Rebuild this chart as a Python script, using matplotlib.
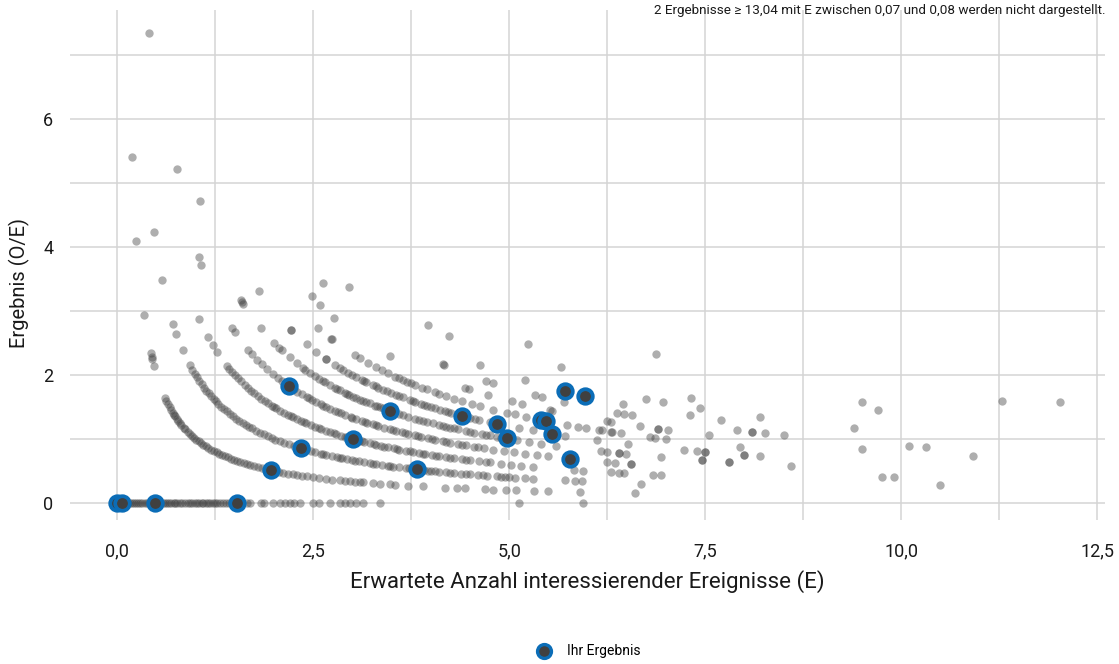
import matplotlib
matplotlib.use("Agg")
import matplotlib.pyplot as plt
from matplotlib.lines import Line2D
import numpy as np

# Erwartete Anzahl E je Anzahl beobachteter Ereignisse O
e_nach_o = {
    0: [0.02, 0.04, 0.07, 0.09, 0.11, 0.14, 0.16, 0.19, 0.21, 0.24, 0.27, 0.29, 0.32, 0.35,
        0.38, 0.41, 0.44, 0.52, 0.55, 0.58, 0.61, 0.64, 0.66, 0.69, 0.72, 0.74, 0.77, 0.8,
        0.83, 0.86, 0.9, 0.93, 0.96, 0.99, 1.02, 1.05, 1.08, 1.1, 1.13, 1.16, 1.19, 1.22,
        1.25, 1.28, 1.31, 1.35, 1.39, 1.43, 1.47, 1.66, 1.7, 1.84, 1.87, 1.99, 2.08, 2.14,
        2.2, 2.26, 2.33, 2.5, 2.57, 2.72, 2.84, 2.9, 2.97, 3.05, 3.13, 3.35, 5.13, 5.94],
    1: [0.185, 0.244, 0.34, 0.427, 0.44, 0.445, 0.467, 0.61, 0.63, 0.65, 0.67, 0.69, 0.71,
        0.73, 0.74, 0.76, 0.78, 0.8, 0.82, 0.85, 0.87, 0.9, 0.93, 0.96, 0.98, 1.01, 1.04,
        1.07, 1.1, 1.13, 1.16, 1.2, 1.23, 1.27, 1.3, 1.34, 1.37, 1.41, 1.45, 1.49, 1.53,
        1.57, 1.62, 1.66, 1.7, 1.75, 1.8, 1.85, 1.9, 2.01, 2.06, 2.12, 2.18, 2.24, 2.3,
        2.36, 2.42, 2.5, 2.57, 2.66, 2.74, 2.84, 2.9, 2.97, 3.03, 3.1, 3.14, 3.26, 3.35,
        3.48, 3.54, 3.71, 3.9, 4.18, 4.33, 4.44, 4.69, 4.8, 4.96, 5.09, 5.32, 5.5, 5.9, 6.6],
    2: [0.473, 0.575, 0.714, 0.757, 0.84, 0.93, 0.96, 0.99, 1.02, 1.05, 1.08, 1.11, 1.14,
        1.17, 1.2, 1.23, 1.26, 1.29, 1.33, 1.36, 1.4, 1.44, 1.48, 1.52, 1.56, 1.6, 1.64,
        1.68, 1.72, 1.77, 1.82, 1.87, 1.92, 1.97, 2.02, 2.08, 2.13, 2.19, 2.25, 2.3, 2.41,
        2.47, 2.53, 2.6, 2.63, 2.67, 2.74, 2.8, 2.84, 2.87, 2.93, 3.0, 3.04, 3.08, 3.15,
        3.22, 3.26, 3.3, 3.38, 3.45, 3.48, 3.52, 3.6, 3.68, 3.72, 3.76, 3.92, 3.96, 4.0,
        4.05, 4.1, 4.2, 4.25, 4.3, 4.38, 4.45, 4.5, 4.6, 4.66, 4.72, 4.85, 4.9, 4.95, 5.0,
        5.08, 5.2, 5.3, 5.71, 5.84, 5.93, 6.68],
    3: [0.409, 1.045, 1.16, 1.22, 1.27, 1.4, 1.43, 1.47, 1.5, 1.54, 1.58, 1.63, 1.67, 1.71,
        1.75, 1.8, 1.84, 1.89, 1.93, 1.98, 2.0, 2.03, 2.08, 2.13, 2.18, 2.22, 2.24, 2.29,
        2.35, 2.38, 2.41, 2.47, 2.53, 2.57, 2.6, 2.66, 2.72, 2.76, 2.79, 2.86, 2.9, 2.93,
        3.08, 3.12, 3.15, 3.22, 3.27, 3.3, 3.37, 3.41, 3.45, 3.53, 3.57, 3.6, 3.68, 3.73,
        3.77, 3.85, 3.9, 3.93, 4.02, 4.07, 4.11, 4.2, 4.25, 4.3, 4.4, 4.45, 4.5, 4.62, 4.7,
        4.75, 4.9, 5.02, 5.15, 5.3, 5.83, 5.94, 6.3, 6.4, 6.47, 6.84, 6.94, 10.5],
    4: [0.766, 1.04, 1.075, 1.465, 1.5, 1.67, 1.72, 1.79, 1.85, 1.91, 1.99, 2.05, 2.1,
        2.15, 2.25, 2.3, 2.36, 2.42, 2.45, 2.48, 2.54, 2.6, 2.63, 2.66, 2.72, 2.78, 2.82,
        2.85, 2.91, 2.98, 3.0, 3.05, 3.12, 3.16, 3.19, 3.26, 3.3, 3.33, 3.4, 3.48, 3.52,
        3.56, 3.63, 3.67, 3.71, 3.8, 3.84, 3.88, 3.97, 4.02, 4.06, 4.15, 4.2, 4.25, 4.35,
        4.4, 4.45, 4.55, 4.6, 4.68, 4.8, 4.93, 5.06, 5.2, 5.35, 5.5, 6.25, 6.35, 6.56, 6.56,
        9.75, 9.91],
    5: [1.06, 1.58, 1.59, 1.61, 1.83, 2.0, 2.07, 2.1, 2.2, 2.29, 2.37, 2.4, 2.46, 2.52,
        2.58, 2.62, 2.65, 2.72, 2.78, 2.81, 2.84, 2.9, 2.93, 2.96, 3.01, 3.05, 3.1, 3.14,
        3.18, 3.22, 3.29, 3.32, 3.35, 3.39, 3.45, 3.52, 3.6, 3.65, 3.71, 3.8, 3.85, 3.9,
        3.95, 4.03, 4.1, 4.16, 4.2, 4.25, 4.3, 4.35, 4.45, 4.5, 4.55, 4.65, 4.7, 4.75, 4.85,
        4.9, 5.1, 5.25, 5.4, 5.6, 6.17, 6.25, 6.4, 6.4, 6.49, 6.94, 7.46, 7.46, 7.8, 7.8,
        8.6],
    6: [1.81, 2.22, 2.22, 2.42, 2.54, 2.67, 2.67, 2.78, 2.84, 2.88, 2.95, 3.0, 3.05, 3.12,
        3.15, 3.18, 3.26, 3.3, 3.33, 3.39, 3.44, 3.49, 3.56, 3.6, 3.64, 3.73, 3.77, 3.8,
        3.87, 3.92, 3.95, 4.0, 4.05, 4.12, 4.18, 4.22, 4.26, 4.35, 4.5, 4.57, 4.62, 4.75,
        5.13, 5.3, 5.71, 6.12, 6.52, 7.23, 7.4, 7.5, 7.5, 8.0, 8.0, 8.2],
    7: [2.56, 2.73, 2.74, 3.03, 3.1, 3.2, 3.3, 3.38, 3.45, 3.55, 3.6, 3.65, 3.7, 3.75, 3.8,
        3.89, 3.95, 4.05, 4.1, 4.19, 4.3, 4.4, 4.52, 4.63, 4.8, 4.97, 5.07, 5.22, 5.74,
        5.88, 5.98, 6.14, 6.19, 6.3, 6.31, 6.42, 6.8, 6.86, 7.0, 7.95],
    8: [2.48, 2.59, 2.77, 3.48, 4.44, 4.49, 4.73, 5.03, 5.16, 5.52, 5.55, 6.25, 6.3, 6.67,
        6.9, 6.9, 7.02, 7.55, 9.5, 10.92],
    9: [2.62, 4.15, 4.17, 4.71, 4.79, 5.33, 5.42, 5.7, 6.38, 6.47, 6.57, 7.9, 8.1, 8.1,
        8.26, 8.5, 10.1, 10.31],
    10: [2.96, 4.63, 5.2, 6.45, 7.3, 7.7],
    11: [3.96, 4.23, 6.75, 6.96, 7.43, 8.2, 9.4],
    12: [5.66, 7.32],
    13: [5.24],
    14: [9.7],
    15: [9.5],
    16: [6.87],
    18: [11.28],
    19: [12.02],
}

# eigene Ergebnisse
ihr_e = [0.0, 0.06, 0.48, 1.53, 1.96, 2.35, 2.19, 3.01, 3.48, 3.83, 4.40, 4.85, 4.97,
         5.41, 5.47, 5.54, 5.71, 5.97, 5.77]
ihr_o = [0, 0, 0, 0, 1, 2, 4, 3, 5, 2, 6, 6, 5, 7, 7, 6, 10, 10, 4]

x_ticks = [0, 2.5, 5, 7.5, 10, 12.5]
x_labels = ["0,0", "2,5", "5,0", "7,5", "10,0", "12,5"]
y_ticks = [0, 2, 4, 6]
y_labels = ["0", "2", "4", "6"]

hinweis = "2 Ergebnisse ≥ 13,04 mit E zwischen 0,07 und 0,08 werden nicht dargestellt."

plt.rcParams["font.family"] = ["Roboto", "DejaVu Sans"]

alle_e = np.concatenate([np.array(v, dtype=float) for v in e_nach_o.values()])
alle_o = np.concatenate([np.full(len(v), k, dtype=float) for k, v in e_nach_o.items()])
alle_y = np.where(alle_e > 0, alle_o / np.maximum(alle_e, 1e-9), 0.0)

ihr_e = np.array(ihr_e)
ihr_y = np.where(ihr_e > 0, np.array(ihr_o) / np.maximum(ihr_e, 1e-9), 0.0)

fig = plt.figure(figsize=(11.19, 6.64), dpi=100)
ax = fig.add_axes([0.0626, 0.217, 0.925, 0.768])

grau = "#404040"
blau = "#0b6db7"

ax.scatter(alle_e, alle_y, s=36, color=grau, alpha=0.42, linewidths=0, zorder=3)
ax.scatter(ihr_e, ihr_y, s=110, facecolor=grau, edgecolor=blau, linewidths=2.7, zorder=4)

ax.set_xlim(-0.6, 12.6)
ax.set_ylim(-0.266, 7.7)

ax.set_xticks(x_ticks)
ax.set_xticklabels(x_labels)
ax.set_xticks(np.arange(0, 12.6, 1.25), minor=True)
ax.set_yticks(y_ticks)
ax.set_yticklabels(y_labels)
ax.set_yticks(range(0, 8), minor=True)

ax.grid(True, which="both", color="#d4d4d4", linewidth=1.1, zorder=0)
ax.set_axisbelow(True)
ax.tick_params(which="both", length=0)
ax.tick_params(axis="x", pad=16, labelsize=13, colors="#1a1a1a")
ax.tick_params(axis="y", pad=12, labelsize=13, colors="#1a1a1a")
for s in ax.spines.values():
    s.set_visible(False)

ax.set_xlabel("Erwartete Anzahl interessierender Ereignisse (E)", fontsize=16,
              color="#1a1a1a", labelpad=7)
ax.set_ylabel("Ergebnis (O/E)", fontsize=14.5, color="#1a1a1a")
ax.yaxis.set_label_coords(-0.039, 0.465)

fig.text(0.9875, 0.984, hinweis, ha="right", va="center", fontsize=9.7, color="#1a1a1a")

griff = Line2D([], [], marker="o", linestyle="none", markersize=10,
               markerfacecolor=grau, markeredgecolor=blau, markeredgewidth=2.4)
fig.legend([griff], ["Ihr Ergebnis"], loc="center", bbox_to_anchor=(0.523, 0.019),
           frameon=False, fontsize=10, handletextpad=0.7)

fig.savefig("out.png", dpi=100, facecolor="white")
